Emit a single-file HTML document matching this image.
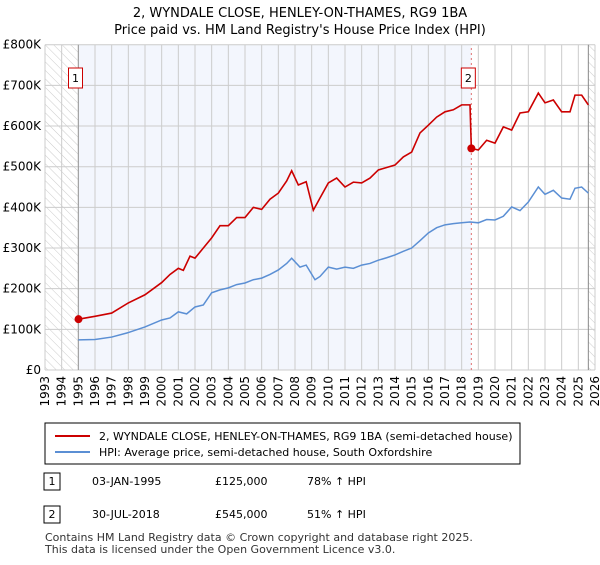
<!DOCTYPE html>
<html><head><meta charset="utf-8">
<style>
body{margin:0;background:#fff;font-family:"Liberation Sans","DejaVu Sans",sans-serif;}
svg text{font-family:"DejaVu Sans","Liberation Sans",sans-serif;}
</style></head>
<body>
<svg id="c" width="600" height="560">
<defs>
<pattern id="hatch" width="6" height="6" patternUnits="userSpaceOnUse" patternTransform="rotate(-45)">
<line x1="0" y1="0" x2="0" y2="6" stroke="#ccc" stroke-width="1"/>
</pattern>
</defs>
<text x="300" y="17" text-anchor="middle" font-size="13">2, WYNDALE CLOSE, HENLEY-ON-THAMES, RG9 1BA</text>
<text x="300" y="34" text-anchor="middle" font-size="13">Price paid vs. HM Land Registry's House Price Index (HPI)</text>
<g id="plot"></g>
<rect x="45" y="423" width="475" height="41" fill="#fff" stroke="#000"/>
<line x1="55" y1="436" x2="90" y2="436" stroke="#cc0000" stroke-width="2"/>
<text x="99" y="440" font-size="11">2, WYNDALE CLOSE, HENLEY-ON-THAMES, RG9 1BA (semi-detached house)</text>
<line x1="55" y1="452" x2="90" y2="452" stroke="#5b8fd4" stroke-width="2"/>
<text x="99" y="456" font-size="11">HPI: Average price, semi-detached house, South Oxfordshire</text>
<g font-size="11">
<rect x="44" y="473" width="16" height="17" fill="#fff" stroke="#000"/>
<text x="52" y="485" text-anchor="middle">1</text>
<text x="92" y="485">03-JAN-1995</text><text x="215" y="485">£125,000</text><text x="307" y="485">78% ↑ HPI</text>
<rect x="44" y="506" width="16" height="17" fill="#fff" stroke="#000"/>
<text x="52" y="518" text-anchor="middle">2</text>
<text x="92" y="518">30-JUL-2018</text><text x="215" y="518">£545,000</text><text x="307" y="518">51% ↑ HPI</text>
</g>
<text x="45" y="541" font-size="11" fill="#333">Contains HM Land Registry data © Crown copyright and database right 2025.</text>
<text x="45" y="553" font-size="11" fill="#333">This data is licensed under the Open Government Licence v3.0.</text>
</svg>
<script>
const yTicks=[0,100,200,300,400,500,600,700,800];
const yTickLabels=["£0","£100K","£200K","£300K","£400K","£500K","£600K","£700K","£800K"];
const years=[1993,1994,1995,1996,1997,1998,1999,2000,2001,2002,2003,2004,2005,2006,2007,2008,2009,2010,2011,2012,2013,2014,2015,2016,2017,2018,2019,2020,2021,2022,2023,2024,2025,2026];
const hpiT=[1995,1996,1997,1998,1999,2000,2000.5,2001,2001.5,2002,2002.5,2003,2003.5,2004,2004.5,2005,2005.5,2006,2006.5,2007,2007.5,2007.8,2008.3,2008.67,2009.2,2009.5,2010,2010.5,2011,2011.5,2012,2012.5,2013,2013.5,2014,2014.5,2015,2015.5,2016,2016.5,2017,2017.5,2018,2018.5,2019,2019.5,2020,2020.5,2021,2021.5,2022,2022.6,2023,2023.5,2024,2024.5,2024.8,2025.2,2025.6];
const hpiV=[74,75,81,92,106,123,128,143,138,155,160,190,197,202,210,214,222,226,235,246,262,275,253,258,222,230,253,248,253,250,258,262,270,276,283,292,300,318,337,350,357,360,362,364,362,370,369,378,401,392,413,450,432,442,423,420,447,450,435];
const redT=[1995.01,1996,1997,1998,1999,2000,2000.5,2001,2001.3,2001.7,2002,2002.5,2003,2003.5,2004,2004.5,2005,2005.5,2006,2006.5,2007,2007.5,2007.8,2008.2,2008.67,2009.1,2009.5,2010,2010.5,2011,2011.5,2012,2012.5,2013,2013.5,2014,2014.5,2015,2015.5,2016,2016.5,2017,2017.5,2018,2018.5,2018.58,2019,2019.5,2020,2020.5,2021,2021.5,2022,2022.6,2023,2023.5,2024,2024.5,2024.8,2025.2,2025.6];
const redV=[125,132,140,165,185,215,235,250,245,280,275,300,325,355,355,375,375,400,395,420,435,465,490,455,463,393,423,460,472,450,462,460,472,492,498,504,524,536,583,602,622,635,640,652,652,545,541,565,558,598,590,632,635,681,657,664,635,635,676,676,652];
const sales=[[1995.01,125,"1"],[2018.58,545,"2"]];
const X=y=>45+(y-1993)*(550/33);
const Y=v=>370-v*(325.3/800);
const NS="http://www.w3.org/2000/svg";
const g=document.getElementById('plot');
function mk(t,a){const e=document.createElementNS(NS,t);for(const k in a)e.setAttribute(k,a[k]);g.appendChild(e);return e;}
let e;
e=mk('rect',{x:X(1995),y:Y(800),width:X(2018.58)-X(1995),height:Y(0)-Y(800),fill:'#f3f6fd'});


e=mk('rect',{x:X(1993),y:Y(800),width:X(1995)-X(1993),height:Y(0)-Y(800),fill:'url(#hatch)'});


e=mk('rect',{x:X(2025.6),y:Y(800),width:X(2026)-X(2025.6),height:Y(0)-Y(800),fill:'url(#hatch)'});


years.forEach((yr,i)=>{
 e=mk('line',{x1:X(yr),x2:X(yr),y1:Y(0),y2:Y(800),stroke:'#ccc','stroke-width':1});
 
 
 const t=mk('text',{x:0,y:0,'font-size':12,'text-anchor':'end',transform:`translate(${X(yr)+4},376) rotate(-90)`});
 t.textContent=yr;
 
 
});
yTicks.forEach((v,i)=>{
 e=mk('line',{x1:X(1993),x2:X(2026),y1:Y(v),y2:Y(v),stroke:'#ccc','stroke-width':1});
 
 
 const t=mk('text',{x:41,y:Y(v)+4,'font-size':12,'text-anchor':'end'});
 t.textContent=yTickLabels[i];
 
 
});
e=mk('line',{x1:X(1995),x2:X(1995),y1:Y(0),y2:Y(800),stroke:'#999','stroke-width':1});


e=mk('line',{x1:X(2018.58),x2:X(2018.58),y1:Y(0),y2:Y(800),stroke:'#e07070','stroke-width':1,'stroke-dasharray':'2,3'});


e=mk('line',{x1:X(2025.6),x2:X(2025.6),y1:Y(0),y2:Y(800),stroke:'#888','stroke-width':1});


e=mk('polyline',{points:hpiT.map((t,i)=>X(t)+','+Y(hpiV[i])).join(' '),fill:'none',stroke:'#5b8fd4','stroke-width':1.5});


e=mk('polyline',{points:redT.map((t,i)=>X(t)+','+Y(redV[i])).join(' '),fill:'none',stroke:'#cc0000','stroke-width':1.6});


sales.forEach(s=>{
 e=mk('circle',{cx:X(s[0]),cy:Y(s[1]),r:4,fill:'#cc0000'});
 
 
 const bx=X(s[0])-3;
 e=mk('rect',{x:bx-7,y:68,width:14,height:20,fill:'#fff',stroke:'#cc0000'});
 
 
 const t=mk('text',{x:bx,y:82,'font-size':11,'text-anchor':'middle'});
 t.textContent=s[2];
 
 
});
</script>
</body></html>
